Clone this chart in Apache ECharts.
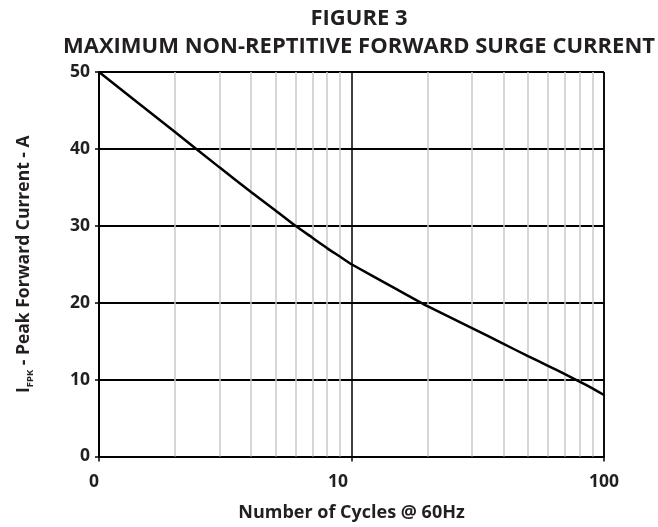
<!DOCTYPE html>
<html>
<head>
<meta charset="utf-8">
<script src="https://cdn.jsdelivr.net/npm/echarts@6/dist/echarts.min.js"></script>
<style>
html,body{margin:0;padding:0;background:#fff;}
#chart{width:658px;height:527px;}
</style>
</head>
<body>
<div id="chart"></div>
<script>
// Data
const cycles = [1, 2, 3, 4, 5, 6, 7, 8, 9, 10, 15, 20, 30, 40, 50, 60, 70, 80, 90, 100];
const surgeCurrent = [50, 42.2, 37.6, 34.4, 32.0, 30.0, 28.45, 27.1, 26.0, 25.0, 21.8, 19.55, 16.7, 14.65, 13.05, 11.8, 10.7, 9.75, 8.85, 8.0];
const xTickValues = [1, 10, 100];
const xTickLabels = ['0', '10', '100'];
const minorGridX = [2, 3, 4, 5, 6, 7, 8, 9, 20, 30, 40, 50, 60, 70, 80, 90];
const yTickLabels = ['0', '10', '20', '30', '40', '50'];

const titleLine1 = 'FIGURE 3';
const titleLine2 = 'MAXIMUM NON-REPTITIVE FORWARD SURGE CURRENT';

const FONT = 'Open Sans';
const TXT = '#231f20';
const labelBase = {fontFamily: FONT, fontWeight: 'bold', fontSize: 17.5, color: TXT};

const chart = echarts.init(document.getElementById('chart'), null, {renderer: 'canvas'});
chart.setOption({
  backgroundColor: '#fff',
  animation: false,
  title: [
    {text: titleLine1, left: 359, top: 8, textAlign: 'center', padding: 0,
     textStyle: {fontFamily: FONT, fontWeight: 'bold', fontSize: 22, color: TXT}},
    {text: titleLine2, left: 359, top: 35.5, textAlign: 'center', padding: 0,
     textStyle: {fontFamily: FONT, fontWeight: 'bold', fontSize: 22, color: TXT}}
  ],
  grid: {left: 99, right: 54, top: 72, bottom: 70.5, containLabel: false, outerBoundsMode: 'none'},
  xAxis: {
    type: 'log', logBase: 10, min: 1, max: 100,
    name: 'Number of Cycles @ 60Hz', nameLocation: 'middle', nameGap: 47,
    nameTextStyle: {fontFamily: FONT, fontWeight: 'bold', fontSize: 18, color: TXT},
    axisLine: {show: true, lineStyle: {color: '#000', width: 2}},
    axisTick: {show: true, length: 5, lineStyle: {color: '#000', width: 1.5}},
    axisLabel: {
      margin: 17,
      formatter: function (v) {
        const i = xTickValues.indexOf(Math.round(v));
        if (i < 0) return '';
        return '{t' + i + '|' + xTickLabels[i] + '}';
      },
      rich: {
        t0: Object.assign({padding: [0, 10, 0, 0]}, labelBase),
        t1: Object.assign({padding: [0, 27, 0, 0]}, labelBase),
        t2: Object.assign({padding: [0, 0, 0, 0]}, labelBase)
      }
    },
    splitLine: {show: true, lineStyle: {color: '#000', width: 1.5}}
  },
  yAxis: {
    type: 'value', min: 0, max: 50, interval: 10,
    name: '{i|I}{s|FPK}{n| - Peak Forward Current - A}', nameLocation: 'middle', nameGap: 66, nameRotate: 90,
    nameTextStyle: {
      rich: {
        i: {fontFamily: FONT, fontWeight: 'bold', fontSize: 17.5, color: TXT},
        s: {fontFamily: FONT, fontWeight: 'bold', fontSize: 9.5, color: TXT, verticalAlign: 'bottom', padding: [0, 0, -2, 0]},
        n: {fontFamily: FONT, fontWeight: 'bold', fontSize: 17.5, color: TXT}
      }
    },
    axisLine: {show: true, lineStyle: {color: '#000', width: 2}},
    axisTick: {show: true, length: 4, lineStyle: {color: '#000', width: 1.5}},
    axisLabel: Object.assign({
      margin: 9,
      formatter: function (v) { return yTickLabels[Math.round(v / 10)]; }
    }, labelBase),
    splitLine: {show: true, lineStyle: {color: '#000', width: 2}}
  },
  series: [
    {
      type: 'line', data: [], silent: true, z: 1,
      markLine: {
        silent: true, symbol: ['none', 'none'], label: {show: false},
        lineStyle: {color: '#c9c9c9', width: 1.5, type: 'solid'},
        data: minorGridX.map(function (v) { return {xAxis: v}; })
      }
    },
    {
      type: 'line', z: 5,
      data: cycles.map(function (c, i) { return [c, surgeCurrent[i]]; }),
      showSymbol: false, smooth: 0.15,
      lineStyle: {color: '#000', width: 2.5}
    },
    {
      type: 'line', data: [], silent: true, z: 2,
      markLine: {
        silent: true, symbol: ['none', 'none'], label: {show: false},
        lineStyle: {color: '#000', width: 1.5, type: 'solid'},
        data: [{xAxis: 100}]
      }
    }
  ]
});
</script>
</body>
</html>
